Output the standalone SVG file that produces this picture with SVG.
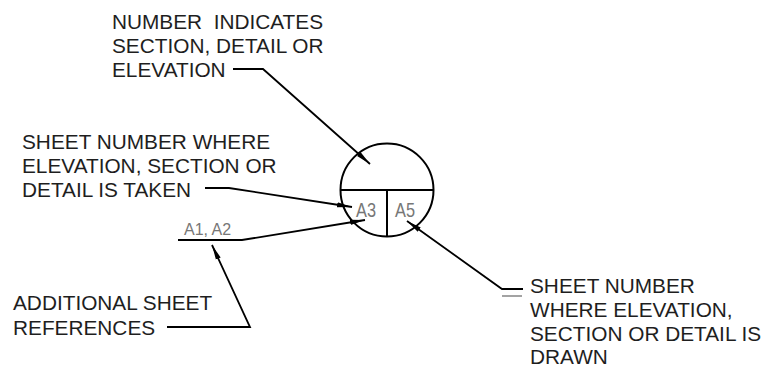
<svg xmlns="http://www.w3.org/2000/svg" width="767" height="367" viewBox="0 0 767 367">
<defs>
<style>
.t{font-family:"Liberation Sans",Arial,sans-serif;font-size:20.8px;fill:#1e1e1e}
.g{font-family:"Liberation Sans",Arial,sans-serif;font-size:16px;fill:#777}
.gb{font-family:"Liberation Sans",Arial,sans-serif;font-size:21px;fill:#777}
.ln{fill:none;stroke:#000;stroke-width:2}
.ld{fill:none;stroke:#000;stroke-width:1.8}
</style>
<marker id="ah" viewBox="0 0 15 6" refX="15" refY="3" markerWidth="15" markerHeight="6" markerUnits="userSpaceOnUse" orient="auto">
<path d="M0,0.4 L15,3 L0,5.6 Z" fill="#000"/>
</marker>
</defs>
<rect width="767" height="367" fill="#fff"/>
<g id="symbol">
<circle cx="387" cy="190" r="46.5" class="ln"/>
<line x1="340.5" y1="190" x2="433.5" y2="190" class="ln"/>
<line x1="387" y1="190" x2="387" y2="236.5" class="ln"/>
<text class="gb" x="356" y="217" textLength="20" lengthAdjust="spacingAndGlyphs">A3</text>
<text class="gb" x="395" y="217" textLength="20" lengthAdjust="spacingAndGlyphs">A5</text>
</g>
<g id="label-number">
<text class="t" x="112" y="29" xml:space="preserve">NUMBER  INDICATES</text>
<text class="t" x="112" y="53">SECTION, DETAIL OR</text>
<text class="t" x="112" y="77">ELEVATION</text>
</g>
<g id="label-taken">
<text class="t" x="22" y="149">SHEET NUMBER WHERE</text>
<text class="t" x="22" y="173">ELEVATION, SECTION OR</text>
<text class="t" x="22" y="197">DETAIL IS TAKEN</text>
</g>
<g id="label-additional">
<text class="g" x="184" y="235">A1, A2</text>
<text class="t" x="13" y="310">ADDITIONAL SHEET</text>
<text class="t" x="13" y="335">REFERENCES</text>
</g>
<g id="label-drawn">
<text class="t" x="530" y="293">SHEET NUMBER</text>
<text class="t" x="530" y="317">WHERE ELEVATION,</text>
<text class="t" x="530" y="341">SECTION OR DETAIL IS</text>
<text class="t" x="530" y="364">DRAWN</text>
</g>
<g id="connectors">
<polyline class="ld" points="233,69 263,69 370,164" marker-end="url(#ah)"/>
<polyline class="ld" points="205,188 229,188 352,207" marker-end="url(#ah)"/>
<polyline class="ld" points="178,240 242,240 365,220" marker-end="url(#ah)"/>
<polyline class="ld" points="167,327 250,327 212,245" marker-end="url(#ah)"/>
<polyline class="ld" points="523,289 502,289 407,221" marker-end="url(#ah)"/>
<line x1="502" y1="296" x2="522" y2="296" stroke="#999" stroke-width="1.8"/>
</g>
</svg>
